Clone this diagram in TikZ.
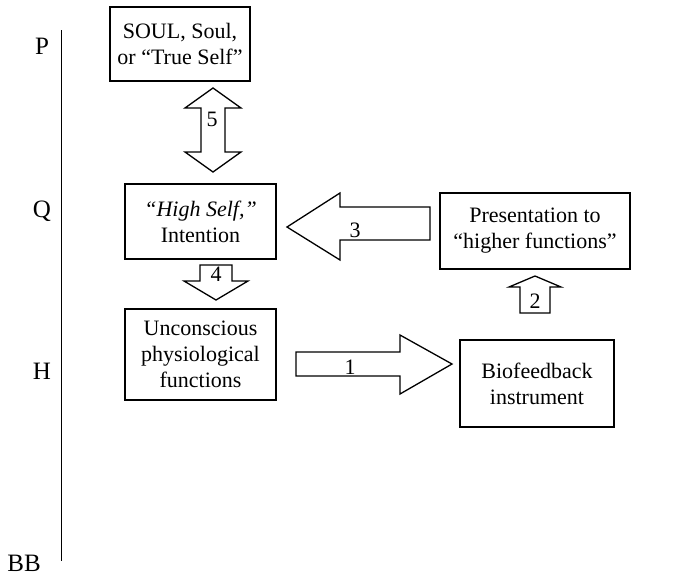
\documentclass[tikz,border=0pt]{standalone}
\usepackage{fontspec}
\setmainfont{Liberation Serif}
\tikzset{
  box/.style={draw, line width=1.3pt, align=center, inner sep=0pt},
  blockarrow/.style={draw, line width=1.3pt, fill=white, line join=miter},
  lbl/.style={inner sep=0pt},
  level/.style={inner sep=0pt, font=\fontsize{25}{30}\selectfont},
}
\begin{document}
\begin{tikzpicture}[x=1pt, y=-1pt, font=\fontsize{22}{26}\selectfont]
\useasboundingbox (0,0) rectangle (680,579);

% level scale on the left
\coordinate (top) at (61,30);
\coordinate (bottom) at (61,561);
\draw[line width=1pt] (top) -- (bottom);
\node[level] (lP) at (42,46) {P};
\node[level] (lQ) at (42,211) {Q};
\node[level] (lH) at (42,371) {H};
\node[level] (lBB) at (24,563) {BB};

% boxes
\node[box, minimum width=140pt, minimum height=74pt] (soul) at (180,44)
  {SOUL, Soul,\\ or \textquotedblleft True Self\textquotedblright};
\node[box, minimum width=151pt, minimum height=75pt] (high) at (200.5,221.5)
  {\textit{\textquotedblleft High Self,\textquotedblright}\\ Intention};
\node[box, minimum width=151pt, minimum height=91pt] (unc) at (200.5,354.5)
  {Unconscious\\ physiological\\ functions};
\node[box, minimum width=190pt, minimum height=76pt] (pres) at (535,231)
  {Presentation to\\ \textquotedblleft higher functions\textquotedblright};
\node[box, minimum width=154pt, minimum height=87pt] (bio) at (537,383.5)
  {Biofeedback\\ instrument};

% 5: double block arrow between soul and high self
\draw[blockarrow] (213,88) -- (241,108) -- (225,108) -- (225,152) -- (241,152)
  -- (213,172) -- (185,152) -- (201,152) -- (201,108) -- (185,108) -- cycle;
\node[lbl] (n5) at (212,119) {5};

% 4: high self down to unconscious functions
\draw[blockarrow] (200,265) -- (232,265) -- (232,281) -- (248,281) -- (216,300)
  -- (184,281) -- (200,281) -- cycle;
\node[lbl] (n4) at (216,274) {4};

% 1: unconscious functions to instrument
\draw[blockarrow] (296,352) -- (400,352) -- (400,335) -- (452,364) -- (400,394)
  -- (400,376) -- (296,376) -- cycle;
\node[lbl] (n1) at (350,367) {1};

% 2: instrument up to presentation
\draw[blockarrow] (520,313) -- (520,287) -- (509,287) -- (535,276) -- (561,287)
  -- (550,287) -- (550,313) -- cycle;
\node[lbl] (n2) at (535,301) {2};

% 3: presentation back to high self
\draw[blockarrow] (287,227) -- (340,193) -- (340,207) -- (430,207) -- (430,240)
  -- (340,240) -- (340,260) -- cycle;
\node[lbl] (n3) at (355,230) {3};
\end{tikzpicture}
\end{document}
